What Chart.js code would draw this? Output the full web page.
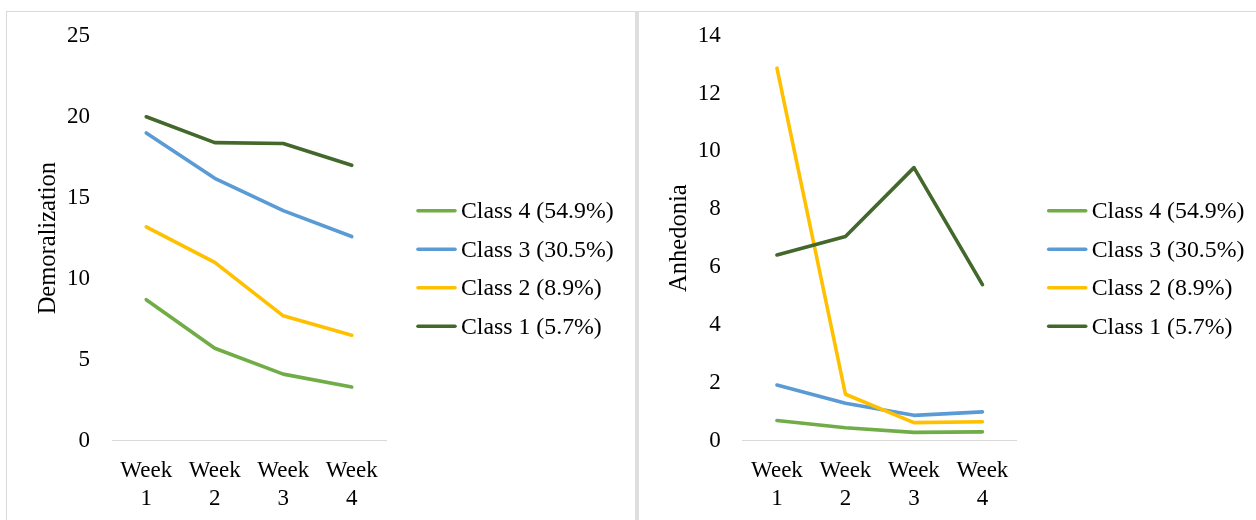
<!DOCTYPE html>
<html>
<head>
<meta charset="utf-8">
<script src="https://cdn.jsdelivr.net/npm/chart.js@4.4.1/dist/chart.umd.min.js"></script>
<style>
    html, body { margin: 0; padding: 0; background: #fff; }
    body { width: 1256px; height: 520px; position: relative; overflow: hidden; }
    .panel { position: absolute; top: 11px; height: 520px; box-sizing: border-box;
             border-top: 1px solid #d9d9d9; }
    #panelLeft { left: 6px; width: 629px; border-left: 1px solid #d9d9d9; }
    #panelRight { left: 639px; width: 617px; }
    .sep { position: absolute; left: 635px; top: 11px; width: 4px; height: 520px; background: #dedede; }
    canvas { position: absolute; top: 0; }
    #demoralization { left: 7px; }
    #anhedonia { left: 640px; }
</style>
</head>
<body>
<div class="panel" id="panelLeft"></div>
<div class="panel" id="panelRight"></div>
<div class="sep"></div>
<canvas id="demoralization" width="628" height="520"></canvas>
<canvas id="anhedonia" width="616" height="520"></canvas>
<script>
// categories
const weeks = [['Week', '1'], ['Week', '2'], ['Week', '3'], ['Week', '4']];

// series names and colours (legend lists Class 4 first)
const classNames = ['Class 1 (5.7%)', 'Class 2 (8.9%)', 'Class 3 (30.5%)', 'Class 4 (54.9%)'];
const classColors = ['#43682B', '#FFC000', '#5B9BD5', '#70AD47'];

// Demoralization by class
const demClass1 = [20.0, 18.4, 18.35, 17.0];
const demClass2 = [13.2, 11.0, 7.7, 6.5];
const demClass3 = [19.0, 16.2, 14.2, 12.6];
const demClass4 = [8.7, 5.7, 4.1, 3.3];

// Anhedonia by class
const anhClass1 = [6.42, 7.06, 9.44, 5.39];
const anhClass2 = [12.88, 1.60, 0.62, 0.65];
const anhClass3 = [1.92, 1.29, 0.87, 0.99];
const anhClass4 = [0.69, 0.44, 0.28, 0.30];

const serif = '"Liberation Serif", "Times New Roman", serif';

// legend drawn beside the plot: one short line and the class name per row
const sideLegend = {
    id: 'sideLegend',
    afterDraw(chart, args, opts) {
        const { ctx, chartArea } = chart;
        const items = chart.data.datasets.slice().reverse();
        ctx.save();
        ctx.font = `${opts.fontSize}px ${serif}`;
        ctx.textBaseline = 'middle';
        ctx.textAlign = 'left';
        items.forEach((ds, i) => {
            const x = chartArea.right + opts.left;
            const y = chartArea.top + opts.top + i * opts.spacing;
            ctx.strokeStyle = ds.borderColor;
            ctx.lineWidth = 3.6;
            ctx.lineCap = 'round';
            ctx.beginPath();
            ctx.moveTo(x + 2, y);
            ctx.lineTo(x + opts.lineLength - 2, y);
            ctx.stroke();
            ctx.fillStyle = '#000';
            ctx.fillText(ds.label, x + opts.lineLength + opts.gap, y + 1);
        });
        ctx.restore();
    }
};

function makeChart(id, title, series, yMax, yStep, pad) {
    const datasets = series.map((values, i) => ({
        label: classNames[i],
        data: values,
        borderColor: classColors[i],
        backgroundColor: classColors[i],
        borderWidth: 3.6,
        borderCapStyle: 'round',
        borderJoinStyle: 'round',
        pointRadius: 0,
        tension: 0,
        fill: false
    }));

    return new Chart(document.getElementById(id), {
        type: 'line',
        data: { labels: weeks, datasets: datasets },
        options: {
            responsive: false,
            animation: false,
            layout: { padding: { left: pad.left, right: pad.right, top: 10, bottom: 0 } },
            plugins: {
                legend: { display: false },
                tooltip: { enabled: false },
                sideLegend: { left: 30, top: 175, spacing: 38.5, lineLength: 41, gap: 4, fontSize: 23.8 }
            },
            scales: {
                x: {
                    type: 'category',
                    offset: true,
                    grid: { display: false, drawTicks: false },
                    border: { display: true, color: '#d9d9d9', width: 1 },
                    ticks: { color: '#000', padding: 17, font: { family: serif, size: 23, lineHeight: 1.2 } },
                    afterFit: s => { s.height = 79.5; }
                },
                y: {
                    min: 0,
                    max: yMax,
                    grid: { display: false, drawTicks: false },
                    border: { display: false },
                    ticks: { stepSize: yStep, color: '#000', padding: 22, font: { family: serif, size: 23 } },
                    title: { display: true, text: title, color: '#000', padding: 0,
                             font: { family: serif, size: 24.5, lineHeight: 1.2 } },
                    afterFit: s => { s.width = pad.yWidth; }
                }
            }
        },
        plugins: [sideLegend]
    });
}

makeChart('demoralization', 'Demoralization',
    [demClass1, demClass2, demClass3, demClass4], 25, 5,
    { left: 27, yWidth: 78, right: 249 });

makeChart('anhedonia', 'Anhedonia',
    [anhClass1, anhClass2, anhClass3, anhClass4], 14, 2,
    { left: 24.5, yWidth: 78.2, right: 239.3 });
</script>
</body>
</html>
